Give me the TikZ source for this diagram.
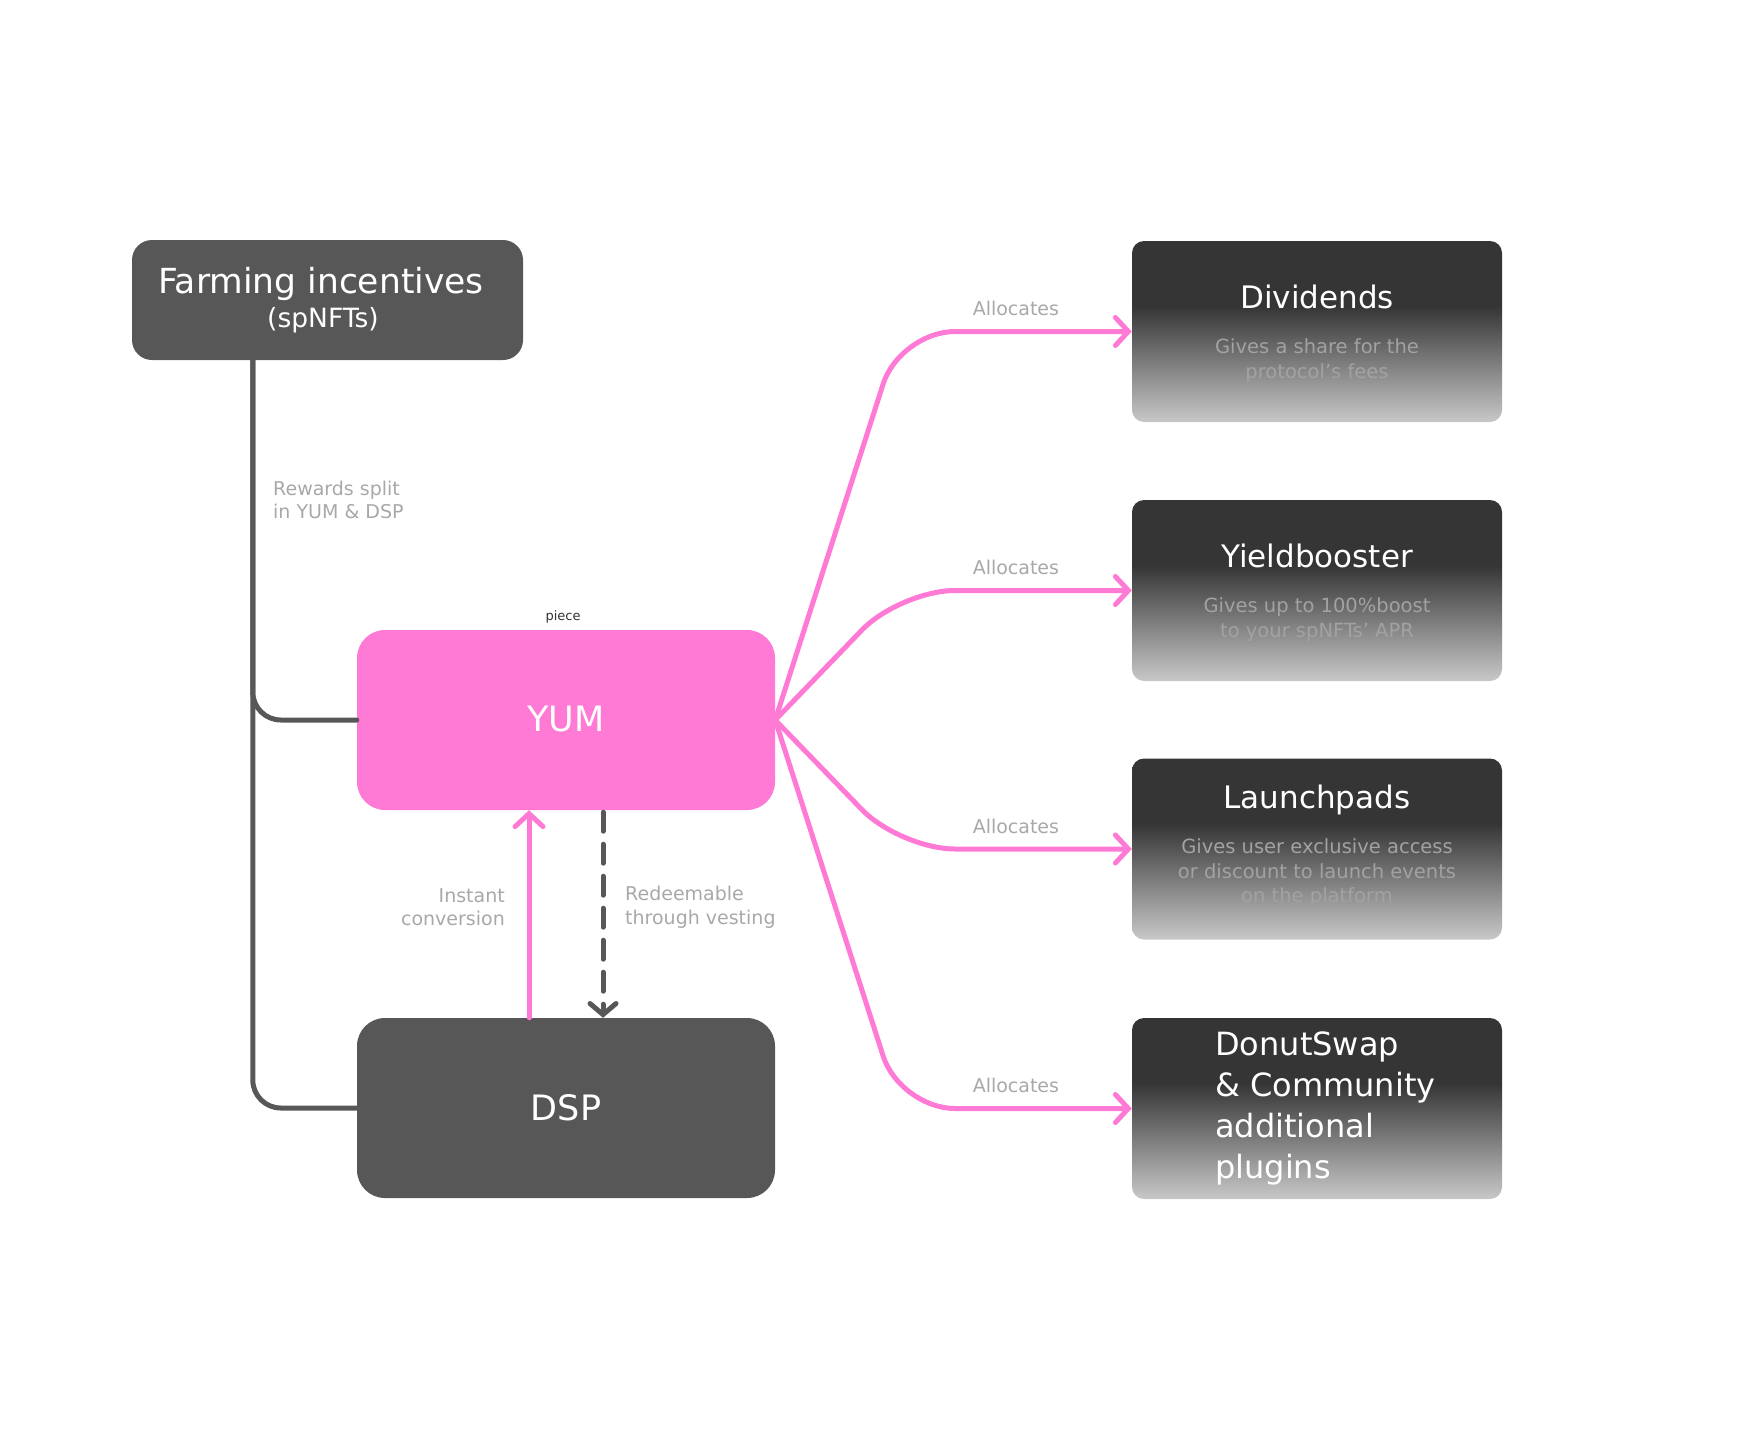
\documentclass[tikz,border=0pt]{standalone}
\usepackage{fontspec}
\setmainfont{DejaVu Sans}
\usetikzlibrary{arrows.meta, positioning, calc}
\definecolor{yumpink}{HTML}{FF7AD5}
\definecolor{boxgray}{HTML}{575757}
\definecolor{fadedark}{HTML}{353535}
\definecolor{fadelight}{HTML}{C8C8C8}
\definecolor{lblgray}{HTML}{A8A8A8}
\definecolor{subgray}{HTML}{A2A2A2}
\pgfdeclareverticalshading{boxfade}{100bp}{color(0bp)=(fadelight); color(25bp)=(fadelight); color(57bp)=(fadedark); color(100bp)=(fadedark)}

\begin{document}
\begin{tikzpicture}[x=1pt, y=-1pt,
  darkbox/.style={fill=boxgray, rounded corners=28pt, minimum width=418pt,
                  minimum height=180pt, text=white, font=\fontsize{35}{42}\selectfont},
  fadebox/.style={shading=boxfade, rounded corners=12pt, minimum width=370pt,
                  minimum height=181pt},
  title/.style={text=white, font=\fontsize{31}{37}\selectfont, inner sep=0pt},
  subtxt/.style={text=subgray, font=\fontsize{19.5}{24.5}\selectfont, align=center, inner sep=0pt},
  lbl/.style={text=lblgray, font=\fontsize{19}{23.5}\selectfont, inner sep=0pt},
  pinkarr/.style={draw=yumpink, line width=5pt, line cap=round,
                  -{Straight Barb[length=13pt, width=28pt, line cap=round]}},
  darkline/.style={draw=boxgray, line width=5pt, line cap=round}
]
  \useasboundingbox (0,0) rectangle (1747,1440);

  % Left side
  \node[fill=boxgray, rounded corners=20pt, minimum width=391pt, minimum height=120pt]
    (farm) at (327.5,300) {};
  \node[text=white, font=\fontsize{34.5}{40}\selectfont, inner sep=0pt] (farmT) at (321,283.5) {Farming incentives};
  \node[text=white, font=\fontsize{26.5}{32}\selectfont, inner sep=0pt] (farmS) at (323,320.5) {(spNFTs)};

  \node[darkbox, fill=yumpink] (yum) at (566,720) {\raisebox{3pt}{YUM}};
  \node[darkbox] (dsp) at (566,1108) {\raisebox{2pt}{DSP}};
  \node[font=\fontsize{13}{15}\selectfont, text=black!80, inner sep=0pt] (piece) at (563,617) {piece};

  % Rewards split
  \draw[darkline, rounded corners=28pt] ([xshift=121pt]farm.south west) |- (yum.west);
  \draw[darkline, rounded corners=28pt] ([xshift=121pt]farm.south west) |- (dsp.west);
  \node[lbl, align=left, anchor=west] (split) at (273,500) {Rewards split\\in YUM \& DSP};

  % Conversion
  \draw[pinkarr] ([xshift=-37pt]dsp.north) -- ([xshift=-37pt]yum.south);
  \draw[darkline, dash pattern=on 19pt off 13pt,
        -{Straight Barb[length=11pt, width=26pt, line cap=round]}]
    ([xshift=37pt,yshift=-2pt]yum.south) -- ([xshift=37pt]dsp.north);
  \node[lbl, align=right, anchor=east] (instant) at (505,907) {Instant\\conversion};
  \node[lbl, align=left, anchor=west] (redeem) at (625,907) {Redeemable\\through vesting};

  % Right boxes
  \node[fadebox] (div) at (1317,331.5) {};
  \node[title] (divT) at (1317,297) {Dividends};
  \node[subtxt] (divS) at (1317,360.5) {Gives a share for the\\protocol's fees};

  \node[fadebox] (yield) at (1317,590.5) {};
  \node[title] (yieldT) at (1317,556) {Yieldbooster};
  \node[subtxt] (yieldS) at (1317,619.5) {Gives up to 100\%boost\\to your spNFTs' APR};

  \node[fadebox] (launch) at (1317,849) {};
  \node[title] (launchT) at (1317,800) {Launchpads};
  \node[subtxt] (launchS) at (1317,873) {Gives user exclusive access\\or discount to launch events\\on the platform};

  \node[fadebox] (donut) at (1317,1108.5) {};
  \node[text=white, font=\fontsize{32}{41}\selectfont, align=left, anchor=west, inner sep=0pt]
    (donutT) at (1215,1108.5) {DonutSwap\\\& Community\\additional\\plugins};

  % Allocations
  \coordinate (bend) at (900,0);
  \foreach \t in {div, yield, launch, donut}
    \draw[pinkarr, rounded corners=55pt] (yum.east) -- (bend |- \t.west)
      -- node[lbl, above=13pt] {Allocates} (\t.west);
\end{tikzpicture}
\end{document}
